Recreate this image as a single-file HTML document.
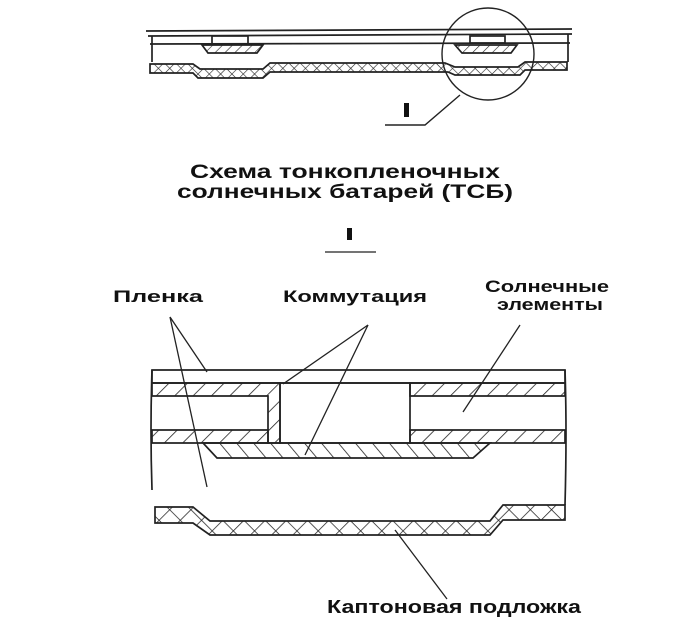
<!DOCTYPE html>
<html><head><meta charset="utf-8"><style>
body{margin:0;background:#fff}
svg{display:block}
text{font-family:"Liberation Sans",sans-serif;font-weight:bold;fill:#111}
</style></head><body>
<svg width="700" height="639" viewBox="0 0 700 639" xmlns="http://www.w3.org/2000/svg">
<defs>
<pattern id="h1" width="13" height="13" patternUnits="userSpaceOnUse" patternTransform="rotate(45)">
<line x1="0" y1="0" x2="0" y2="13" stroke="#222" stroke-width="1.6"/></pattern>
<pattern id="h2" width="13" height="13" patternUnits="userSpaceOnUse" patternTransform="rotate(-40)">
<line x1="0" y1="0" x2="0" y2="13" stroke="#222" stroke-width="1.6"/></pattern>
<pattern id="x1" width="15" height="15" patternUnits="userSpaceOnUse" patternTransform="rotate(45)">
<line x1="0" y1="0" x2="0" y2="15" stroke="#222" stroke-width="1.5"/><line x1="0" y1="0" x2="15" y2="0" stroke="#222" stroke-width="1.5"/></pattern>
<pattern id="hs" width="7" height="7" patternUnits="userSpaceOnUse" patternTransform="rotate(45)">
<line x1="0" y1="0" x2="0" y2="7" stroke="#222" stroke-width="1.2"/></pattern>
<pattern id="xs" width="8" height="8" patternUnits="userSpaceOnUse" patternTransform="rotate(45)">
<line x1="0" y1="0" x2="0" y2="8" stroke="#222" stroke-width="1.2"/><line x1="0" y1="0" x2="8" y2="0" stroke="#222" stroke-width="1.2"/></pattern>
</defs>
<g stroke="#222" fill="none" stroke-width="1.7">
<line x1="146" y1="31" x2="572" y2="29"/>
<line x1="148" y1="36" x2="572" y2="34"/>
<line x1="150" y1="44" x2="570" y2="43"/>
<line x1="152" y1="36" x2="152" y2="62"/>
<line x1="568" y1="34" x2="568" y2="62"/>
<rect x="212" y="36" width="36" height="8"/>
<polygon points="202,45 263,45 257,53 208,53" fill="url(#hs)"/>
<rect x="470" y="36" width="35" height="7"/>
<polygon points="455,45 517,45 511,53 462,53" fill="url(#hs)"/>
<polygon points="150,64 193,64 200,69 263,69 270,63 445,63 455,67 518,67 525,62 567,62 567,70 525,70 520,75 455,75 448,72 270,72 263,78 198,78 193,73 150,73" fill="url(#xs)"/>
<circle cx="488" cy="54" r="46" stroke-width="1.4"/>
<polyline points="460,95 425,125 385,125" stroke-width="1.4"/>
<path d="M152 370 L565 370 L565 383 L152 383 Z"/>
<path d="M152 370 Q150 430 152 490 M565 370 Q567 430 565 505"/>
<polygon points="152,383 280,383 280,443 268,443 268,396 152,396" fill="url(#h1)"/>
<polygon points="152,430 268,430 268,443 152,443" fill="url(#h1)"/>
<polygon points="410,383 565,383 565,396 410,396" fill="url(#h1)"/>
<polygon points="410,430 565,430 565,443 410,443" fill="url(#h1)"/>
<rect x="280" y="383" width="130" height="60"/>
<polygon points="203,443 490,443 473,458 217,458" fill="url(#h2)"/>
<polygon points="155,507 193,507 210,521 490,521 503,505 565,505 565,520 503,520 490,535 210,535 193,523 155,523" fill="url(#x1)"/>
<g stroke-width="1.3">
<line x1="170" y1="317" x2="207" y2="372"/>
<line x1="170" y1="317" x2="207" y2="487"/>
<line x1="368" y1="325" x2="283" y2="384"/>
<line x1="368" y1="325" x2="305" y2="455"/>
<line x1="520" y1="325" x2="463" y2="412"/>
<line x1="395" y1="530" x2="447" y2="599"/>
<line x1="325" y1="252" x2="376" y2="252"/>
</g>
</g>
<rect x="404" y="103" width="5" height="14" fill="#111"/>
<rect x="347" y="228" width="5" height="12" fill="#111"/>
<text x="190" y="178" font-size="19" textLength="310" lengthAdjust="spacingAndGlyphs">Схема тонкопленочных</text>
<text x="177" y="198" font-size="19" textLength="336" lengthAdjust="spacingAndGlyphs">солнечных батарей (ТСБ)</text>
<text x="113" y="302" font-size="17" textLength="90" lengthAdjust="spacingAndGlyphs">Пленка</text>
<text x="283" y="302" font-size="17" textLength="144" lengthAdjust="spacingAndGlyphs">Коммутация</text>
<text x="485" y="292" font-size="17" textLength="124" lengthAdjust="spacingAndGlyphs">Солнечные</text>
<text x="497" y="310" font-size="17" textLength="106" lengthAdjust="spacingAndGlyphs">элементы</text>
<text x="327" y="613" font-size="18" textLength="254" lengthAdjust="spacingAndGlyphs">Каптоновая подложка</text>
</svg>
</body></html>
